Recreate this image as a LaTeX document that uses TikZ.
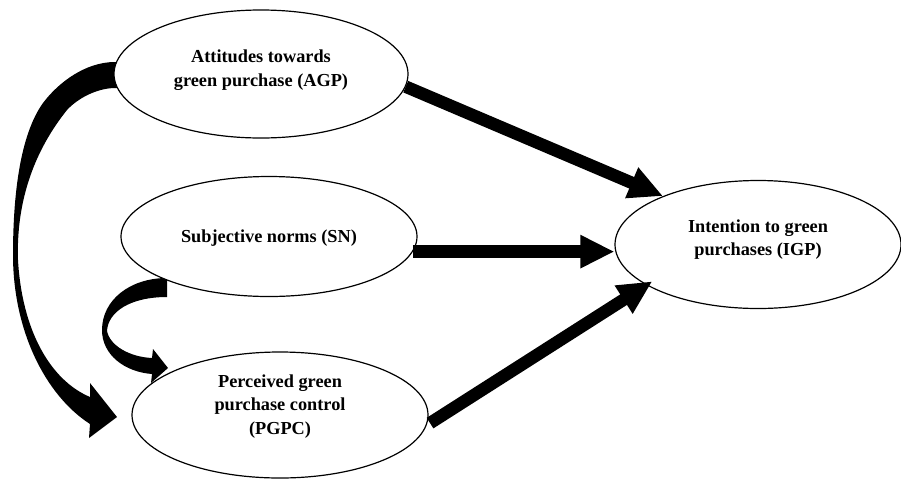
\documentclass[tikz,border=0pt]{standalone}
\usepackage{fontspec}
\setmainfont{Liberation Serif}
\usetikzlibrary{arrows.meta,shapes.geometric}
\begin{document}
\begin{tikzpicture}[x=1pt,y=-1pt,
  ell/.style={draw, line width=1.2pt, fill=white, ellipse, inner sep=0pt},
  lbl/.style={align=center, font=\fontsize{18.3}{23.5}\selectfont\bfseries, inner sep=0pt},
  fat/.style={line width=12.5pt, -{Triangle[length=34pt,width=31pt]}},
  blob/.style={fill=black}]
\useasboundingbox (0,0) rectangle (901,480);
% curved arrows (drawn first, ellipses cover their starts)
\fill[blob] (125,62) -- (115,62) .. controls (85,62) and (58,83) .. (43,103)
  .. controls (20,135) and (13,195) .. (13,255)
  .. controls (13,330) and (45,395) .. (90,424)
  -- (89,438) -- (117,417) -- (90,383) -- (90,397)
  .. controls (50,380) and (22,330) .. (18,260)
  .. controls (16,200) and (35,150) .. (67,110)
  .. controls (80,96) and (100,88) .. (115,88) -- (125,88) -- cycle;
\fill[blob] (167,270) -- (167,278) .. controls (130,278) and (102,300) .. (102,330)
  .. controls (102,355) and (125,372) .. (152,374)
  -- (151,383) -- (168,368) -- (153,349) -- (152,358)
  .. controls (130,357) and (110,346) .. (107,331)
  .. controls (108,312) and (130,297) .. (167,297) -- cycle;
% ellipses
\node[ell, minimum width=294pt, minimum height=128pt] (agp) at (261,74) {};
\node[ell, minimum width=296pt, minimum height=120pt] (sn) at (269,236.5) {};
\node[ell, minimum width=296pt, minimum height=126pt] (pgpc) at (280,415) {};
\node[ell, minimum width=286pt, minimum height=128pt] (igp) at (758,244.5) {};
% labels
\node[lbl] (agpt) at (261,70) {Attitudes towards\\green purchase (AGP)};
\node[lbl] (snt) at (269,237.8) {Subjective norms (SN)};
\node[lbl] (pgpct) at (280,406.4) {Perceived green\\purchase control\\(PGPC)};
\node[lbl] (igpt) at (758,239.8) {Intention to green\\purchases (IGP)};
% straight arrows
\draw[fat] (agp.-5) -- (igp.153);
\draw[fat] (sn.-6.6) -- (sn.-6.6 -| igp.west);
\draw[fat, shorten <=4pt, shorten >=-7pt] (pgpc.-4) -- (igp.200.6);
\end{tikzpicture}
\end{document}
